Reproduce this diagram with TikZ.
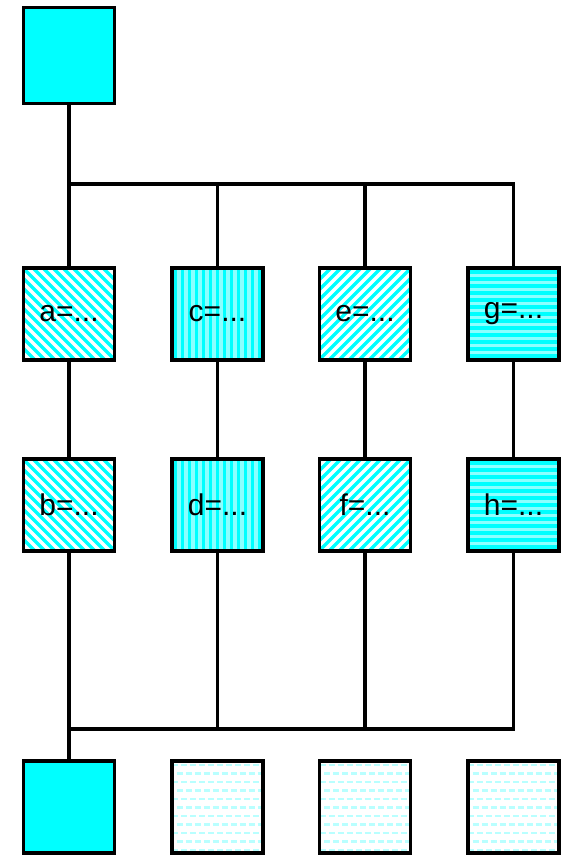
\documentclass[tikz,border=0pt]{standalone}
\usepackage{fontspec}
\setmainfont{Liberation Sans}
\usepackage{tikz}
\usetikzlibrary{calc}
\definecolor{aqua}{RGB}{0,255,255}
\definecolor{paleaqua}{RGB}{140,255,255}
\definecolor{faintaqua}{RGB}{185,255,255}
\tikzset{%
    box/.style={draw, line width=3.5pt, inner sep=0pt,
        minimum width=91pt, minimum height=92pt,
        font=\fontsize{30}{30}\selectfont,
        postaction={draw, line width=3.5pt}},
    solidbox/.style={box, fill=aqua},
    % #1,#2: start and end offset of one stripe, \k is the stripe index
    stripes/.style n args={4}{box, path picture={
        \foreach \k in {-14,...,14}
            \draw[aqua, line width=3.2pt]
                ($(path picture bounding box.center)+(#1,#2)$) --
                ($(path picture bounding box.center)+(#3,#4)$);
    }},
    backslash/.style={stripes={\k*10-80}{-80}{\k*10+80}{80}},
    slash/.style={stripes={\k*10-80}{80}{\k*10+80}{-80}},
    vstripes/.style={stripes={\k*7}{-80}{\k*7}{80}, fill=paleaqua},
    hstripes/.style={stripes={-80}{\k*7}{80}{\k*7}, fill=paleaqua},
    emptybox/.style={box, path picture={
        \foreach \r in {0,...,10}
            \draw[faintaqua, line width=2.2pt, dash pattern=on 6pt off 3pt, dash phase=\r*4.5pt]
                ($(path picture bounding box.north west)+(0,4+\r*8.5)$) -- ++(100,0);
    }},
    wire/.style={line width=3.2pt}
}

\begin{document}
\begin{tikzpicture}[x=1pt,y=-1pt]
    \useasboundingbox (0,0) rectangle (565,855);
    \node[solidbox, minimum height=96pt] (top) at (69,55.5) {};
    \coordinate (upbus) at (69,184);
    \coordinate (lowbus) at (69,729);

    \node[backslash] (a) at (69,314) {a=...};
    \node[vstripes] (c) at (217.5,314) {c=...};
    \node[slash] (e) at (365,314) {e=...};
    \node[hstripes] (g) at (513.5,314) {g=...};

    \node[backslash] (b) at (69,505) {b=...};
    \node[vstripes] (d) at (217.5,505) {d=...};
    \node[slash] (f) at (365,505) {f=...};
    \node[hstripes] (h) at (513.5,505) {h=...};

    \node[solidbox] (out) at (69,807) {};
    \node[emptybox] (spare1) at (217.5,807) {};
    \node[emptybox] (spare2) at (365,807) {};
    \node[emptybox] (spare3) at (513.5,807) {};

    % fan out from the top box
    \draw[wire] (top.south) -- (a.north);
    \draw[wire] (upbus) -| (g.north);
    \foreach \n in {c,e}
        \draw[wire] (\n.north |- upbus) -- (\n.north);
    % one chain per column
    \draw[wire] (a) -- (b);
    \draw[wire] (c) -- (d);
    \draw[wire] (e) -- (f);
    \draw[wire] (g) -- (h);
    % gather into the lower box
    \draw[wire] (b.south) -- (out.north);
    \draw[wire] (lowbus) -| (h.south);
    \foreach \n in {d,f}
        \draw[wire] (\n.south) -- (\n.south |- lowbus);
\end{tikzpicture}
\end{document}
